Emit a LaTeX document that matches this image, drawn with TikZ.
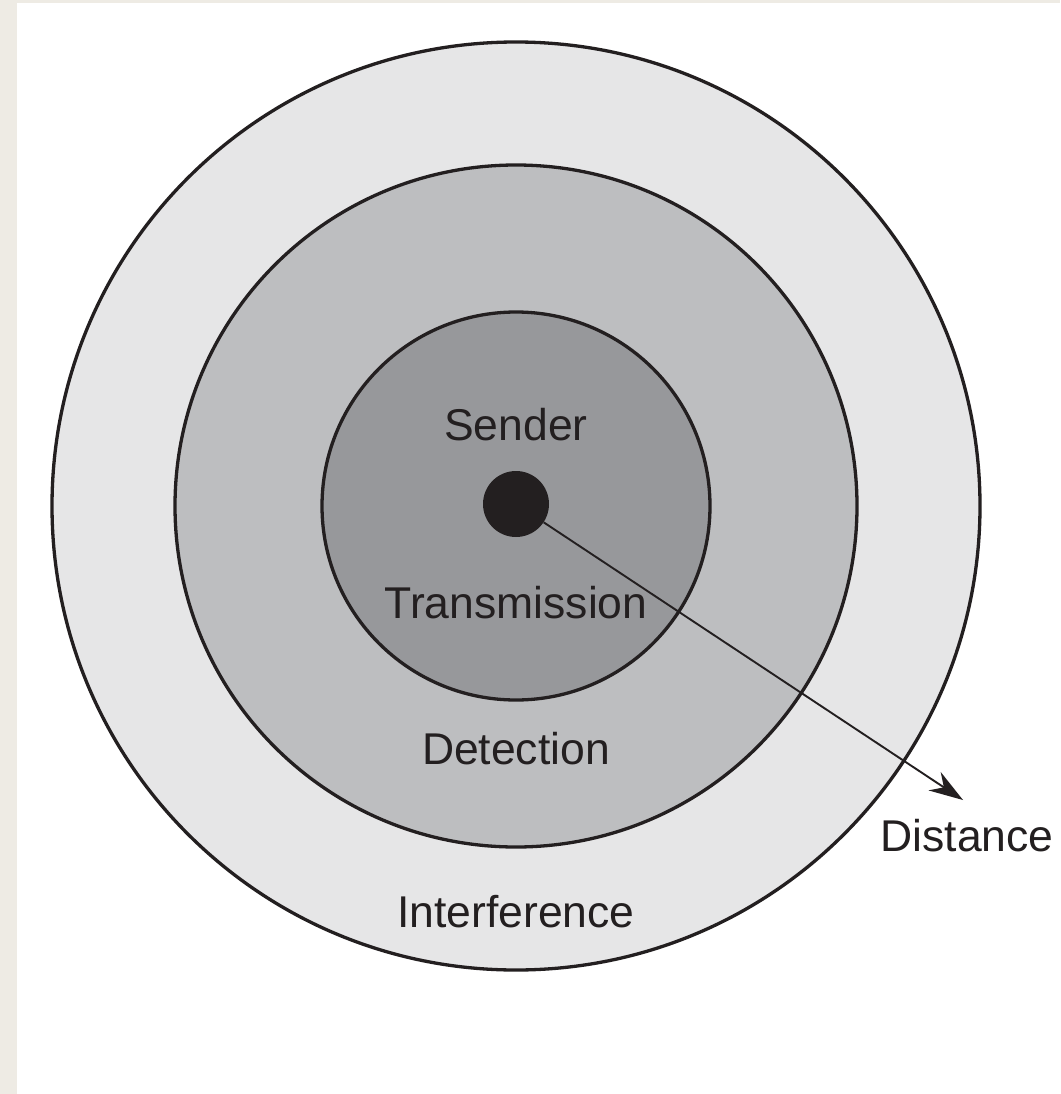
\documentclass[tikz,border=0pt]{standalone}
\usepackage{fontspec}
\setmainfont{Liberation Sans}
\usetikzlibrary{arrows.meta}
\definecolor{bgstrip}{HTML}{EEEBE4}
\definecolor{ringA}{HTML}{E6E6E7}
\definecolor{ringB}{HTML}{BDBEC0}
\definecolor{ringC}{HTML}{97989B}
\definecolor{ink}{HTML}{231F20}
\tikzset{
  ring/.style={draw=ink, line width=3.3pt, circle, inner sep=0pt},
  lbl/.style={text=ink, font=\fontsize{44.5}{50}\selectfont, inner sep=0pt}
}
\begin{document}
\begin{tikzpicture}[x=1pt,y=-1pt]
\useasboundingbox (0,0) rectangle (1060,1094);
\fill[bgstrip] (0,0) rectangle (1060,1094);
\fill[white] (17,3) rectangle (1060,1094);
\node[ring, fill=ringA, minimum size=928] (outer) at (516,506) {};
\node[ring, fill=ringB, minimum size=682] (middle) at (516,506) {};
\node[ring, fill=ringC, minimum size=388] (inner) at (516,506) {};
\node[circle, fill=ink, inner sep=0pt, minimum size=66] (dot) at (516,504) {};
\coordinate (tip) at (963,800);
\draw[ink, line width=1.9pt, -{Stealth[length=34pt,width=22pt]}] (dot) -- (tip);
\node[lbl] (sender) at (516,425) {Sender};
\node[lbl] (trans) at (516,603) {Transmission};
\node[lbl] (det) at (516,749) {Detection};
\node[lbl] (interf) at (516,912) {Interference};
\node[lbl] (dist) at (967,836) {Distance};
\end{tikzpicture}
\end{document}
